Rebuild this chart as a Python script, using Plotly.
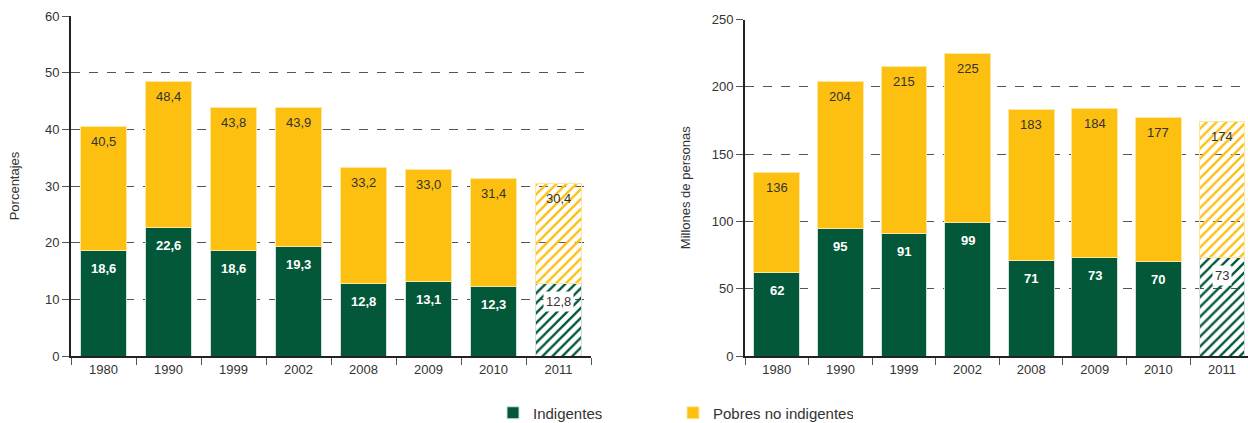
import plotly.graph_objects as go

years = ["1980", "1990", "1999", "2002", "2008", "2009", "2010", "2011"]
pct_total = [40.5, 48.4, 43.8, 43.9, 33.2, 33.0, 31.4, 30.4]
pct_indig = [18.6, 22.6, 18.6, 19.3, 12.8, 13.1, 12.3, 12.8]
mil_total = [136, 204, 215, 225, 183, 184, 177, 174]
mil_indig = [62, 95, 91, 99, 71, 73, 70, 73]

GREEN = "#03583A"
YELLOW = "#FDC010"
W, H = 1248, 423
FONT = "Liberation Sans, Arial, sans-serif"

def fmt_pct(v):
    return f"{v:.1f}".replace(".", ",")

def fmt_int(v):
    return f"{v:d}"

fig = go.Figure()

def add_panel(xa, ya, indig, total, fmt, show_legend):
    n = len(years)
    rest = [t - i for t, i in zip(total, indig)]
    shapes = [""] * (n - 1) + ["/"]
    for name, vals, col, edge, grp in (
        ("Indigentes", indig, GREEN, "#cfe0d6", "ind"),
        ("Pobres no indigentes", rest, YELLOW, "#fde7a0", "pob"),
    ):
        fig.add_trace(go.Bar(
            x=years, y=vals, name=name, xaxis=xa, yaxis=ya,
            marker=dict(color=[col] * n,
                        line=dict(color=edge, width=1),
                        pattern=dict(shape=shapes, fgcolor=[col] * n,
                                     bgcolor=["white"] * n,
                                     size=7, solidity=0.33, fillmode="replace")),
            showlegend=show_legend, legendgroup=grp, hoverinfo="skip",
        ))
    xref = "x" if xa == "x" else "x2"
    yref = "y" if ya == "y" else "y2"
    for k, (i, t) in enumerate(zip(indig, total)):
        last = k == n - 1
        fig.add_annotation(
            x=k, y=i, xref=xref, yref=yref, text=fmt(i),
            showarrow=False, yanchor="middle", yshift=-18,
            font=dict(family=FONT, size=13, color="#333333" if last else "white",
                      weight="normal" if last else "bold"),
            bgcolor="white" if last else "rgba(0,0,0,0)", borderpad=2,
        )
        fig.add_annotation(
            x=k, y=t, xref=xref, yref=yref, text=fmt(t),
            showarrow=False, yanchor="middle", yshift=-15,
            font=dict(family=FONT, size=13, color="#333333"),
        )

add_panel("x", "y", pct_indig, pct_total, fmt_pct, True)
add_panel("x2", "y2", mil_indig, mil_total, fmt_int, False)

y0 = (H - 356) / H
axis_common = dict(
    showline=True, linecolor="#222222", linewidth=2,
    ticks="outside", ticklen=7, tickcolor="#555555", tickwidth=1,
    tickfont=dict(family=FONT, size=13, color="#333333"),
    automargin=False,
)
fig.update_layout(
    width=W, height=H,
    margin=dict(l=0, r=0, t=0, b=0, autoexpand=False),
    paper_bgcolor="white", plot_bgcolor="white",
    barmode="stack",
    bargap=0.28,
    font=dict(family=FONT, color="#333333"),
    xaxis=dict(domain=[71 / W, 591 / W], anchor="y", type="category",
               range=[-0.5, 7.5], tickson="boundaries", showgrid=False,
               **axis_common),
    yaxis=dict(domain=[y0, (H - 16) / H], anchor="x", range=[0, 60],
               dtick=10, showgrid=True, gridcolor="#555555", griddash="dash",
               gridwidth=1, zeroline=False,
               title=dict(text="Porcentajes", standoff=22,
                          font=dict(family=FONT, size=13, color="#333333")),
               **axis_common),
    xaxis2=dict(domain=[745 / W, 1.0], anchor="y2", type="category",
                range=[-0.5, 7.41], tickson="boundaries", showgrid=False,
                **axis_common),
    yaxis2=dict(domain=[y0, (H - 19.5) / H], anchor="x2", range=[0, 250],
                dtick=50, showgrid=True, gridcolor="#555555", griddash="dash",
                gridwidth=1, zeroline=False,
                title=dict(text="Millones de personas", standoff=18,
                           font=dict(family=FONT, size=13, color="#333333")),
                **axis_common),
    legend=dict(orientation="h", x=493 / W, xanchor="left", y=10 / H, yanchor="middle",
                font=dict(family=FONT, size=15, color="#333333"),
                entrywidth=135, entrywidthmode="pixels", traceorder="normal",
                bgcolor="rgba(0,0,0,0)"),
)

fig.write_html(
    "out.html",
    config={"displayModeBar": False},
    post_script="document.body.style.margin='0';document.body.style.overflow='hidden';",
)
